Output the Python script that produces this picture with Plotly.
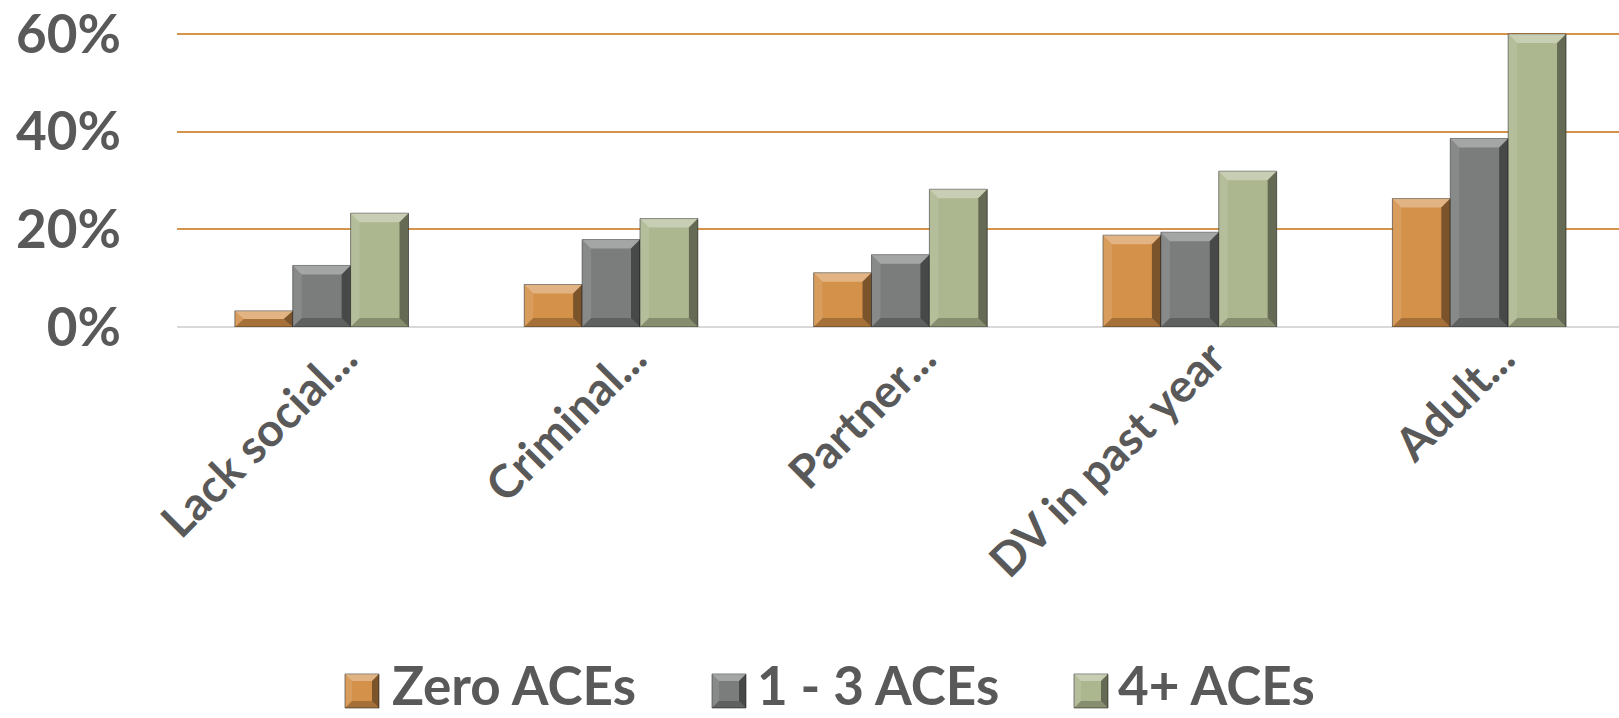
import plotly.graph_objects as go

# ---- data -------------------------------------------------------------
categories = ["Lack social...", "Criminal...", "Partner...", "DV in past year", "Adult..."]
series_names = ["Zero ACEs", "1 - 3 ACEs", "4+ ACEs"]
zero_aces = [3.3, 8.7, 11.1, 18.8, 26.3]
one_to_three_aces = [12.6, 17.9, 14.8, 19.4, 38.6]
four_plus_aces = [23.3, 22.2, 28.2, 31.9, 60.0]
y_tick_values = [0, 20, 40, 60]
y_tick_labels = ["0%", "20%", "40%", "60%"]

series_values = [zero_aces, one_to_three_aces, four_plus_aces]
series_colors = ["#D4914A", "#7A7D7C", "#ADB78F"]

# ---- geometry ---------------------------------------------------------
W, H = 1619, 718
M_L, M_R, M_T, M_B = 177, 0, 32, 391
PLOT_W = W - M_L - M_R
PLOT_H = H - M_T - M_B
X_RANGE = [-0.5, 4.483]
Y_RANGE = [0, 60.4]          # a little headroom so the 60% gridline is drawn
BARGAP = 0.4
N_SERIES = len(series_names)
BAR_W = (1 - BARGAP) / N_SERIES

X_PER_PX = (X_RANGE[1] - X_RANGE[0]) / PLOT_W
Y_PER_PX = (Y_RANGE[1] - Y_RANGE[0]) / PLOT_H

TEXT_COLOR = "#595959"
FONT = "Lato"

# bevel shading (overlay on the flat bar colour)
TOP_SHADE = "rgba(255,255,255,0.32)"
LEFT_SHADE = "rgba(255,255,255,0.10)"
RIGHT_SHADE = "rgba(0,0,0,0.42)"
BOTTOM_SHADE = "rgba(0,0,0,0.22)"


def bevel_shapes(x0, x1, y0, y1, bx, by, xref, yref):
    """Four trapezoids that give a rectangle a bevelled look."""
    by = min(by, (y1 - y0) / 2.0)
    bx = min(bx, (x1 - x0) / 2.0)
    pieces = [
        (f"M{x0},{y1} L{x1},{y1} L{x1 - bx},{y1 - by} L{x0 + bx},{y1 - by} Z", TOP_SHADE),
        (f"M{x0},{y0} L{x0},{y1} L{x0 + bx},{y1 - by} L{x0 + bx},{y0 + by} Z", LEFT_SHADE),
        (f"M{x1},{y0} L{x1},{y1} L{x1 - bx},{y1 - by} L{x1 - bx},{y0 + by} Z", RIGHT_SHADE),
        (f"M{x0},{y0} L{x1},{y0} L{x1 - bx},{y0 + by} L{x0 + bx},{y0 + by} Z", BOTTOM_SHADE),
    ]
    return [
        dict(type="path", path=p, xref=xref, yref=yref, fillcolor=c,
             line=dict(width=0), layer="above")
        for p, c in pieces
    ]


fig = go.Figure()
x_pos = list(range(len(categories)))

for name, vals, col in zip(series_names, series_values, series_colors):
    fig.add_trace(go.Bar(
        x=x_pos, y=vals, name=name,
        marker=dict(color=col, line=dict(color="rgba(45,45,45,0.6)", width=1)),
        customdata=categories,
        hovertemplate="%{customdata}<br>" + name + ": %{y:.1f}%<extra></extra>",
        showlegend=False,
    ))

# bevel overlays derived from the bar values
shapes = []
bev_x = 9 * X_PER_PX
bev_y = 9 * Y_PER_PX
for s, vals in enumerate(series_values):
    offset = (s - (N_SERIES - 1) / 2.0) * BAR_W
    for i, v in enumerate(vals):
        cx = x_pos[i] + offset
        shapes += bevel_shapes(cx - BAR_W / 2, cx + BAR_W / 2, 0, v, bev_x, bev_y, "x", "y")


# ---- legend (drawn in paper space) -----------------------------------
def px_x(px):
    return (px - M_L) / PLOT_W


def px_y(py):
    return (H - M_B - py) / PLOT_H


legend_marker_left = [345, 712, 1074]
legend_text_left = [391, 756, 1117]
LEG_SIZE = 34
LEG_TOP = 674
annotations = []
for name, col, mx, tx in zip(series_names, series_colors, legend_marker_left, legend_text_left):
    x0, x1 = px_x(mx), px_x(mx + LEG_SIZE)
    y0, y1 = px_y(LEG_TOP + LEG_SIZE), px_y(LEG_TOP)
    shapes.append(dict(type="rect", xref="paper", yref="paper", x0=x0, x1=x1, y0=y0, y1=y1,
                       fillcolor=col, line=dict(color="rgba(45,45,45,0.6)", width=1)))
    shapes += bevel_shapes(x0, x1, y0, y1, 7 / PLOT_W, 7 / PLOT_H, "paper", "paper")
    annotations.append(dict(
        xref="paper", yref="paper", x=px_x(tx), y=px_y(717),
        xanchor="left", yanchor="bottom", showarrow=False, text=name, borderpad=0,
        font=dict(family=FONT, size=53, color=TEXT_COLOR, weight="bold"),
    ))

fig.update_layout(
    width=W, height=H,
    margin=dict(l=M_L, r=M_R, t=M_T, b=M_B, pad=0),
    paper_bgcolor="white", plot_bgcolor="white",
    barmode="group", bargap=BARGAP, bargroupgap=0,
    showlegend=False,
    shapes=shapes, annotations=annotations,
    xaxis=dict(
        range=X_RANGE, tickmode="array", tickvals=x_pos, ticktext=categories,
        tickangle=-45, showgrid=False, zeroline=False, showline=False, ticks="",
        ticklabelshift=22, ticklabelstandoff=-6,
        tickfont=dict(family=FONT, size=46, color=TEXT_COLOR, weight="bold"),
        fixedrange=True,
    ),
    yaxis=dict(
        range=Y_RANGE, tickmode="array", tickvals=y_tick_values, ticktext=y_tick_labels,
        showgrid=True, gridcolor="#D4944C", gridwidth=2,
        zeroline=True, zerolinecolor="#D9D9D9", zerolinewidth=2,
        showline=False, ticks="", ticklabelstandoff=55,
        tickfont=dict(family=FONT, size=53, color=TEXT_COLOR, weight="bold"),
        fixedrange=True,
    ),
)

fig.write_html("out.html")
